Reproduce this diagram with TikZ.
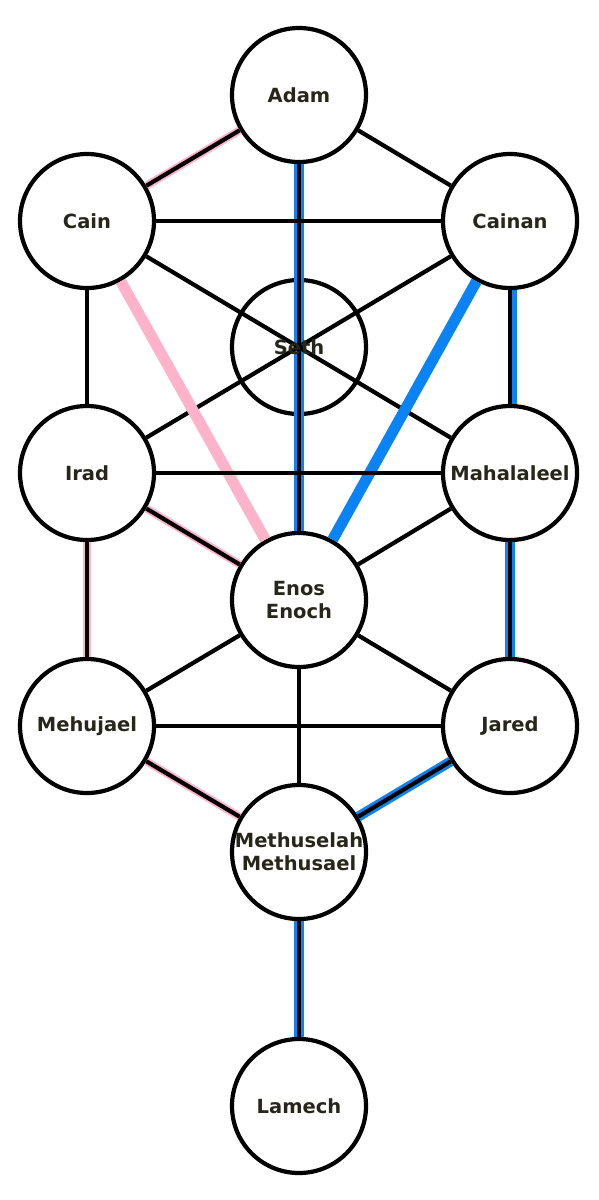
\documentclass[tikz,border=0pt]{standalone}
\usepackage{fontspec}
\setmainfont{DejaVu Sans}
\begin{document}
\begin{tikzpicture}[x=1pt,y=1pt,
  person/.style={circle, draw=black, line width=4.2pt, fill=white, minimum size=134pt, inner sep=0pt,
    font=\fontsize{19.5}{23}\selectfont\bfseries, text=txtcol, align=center},
  hollow/.style={person, fill=none},
  plain/.style={draw=black, line width=4.2pt},
  pinkedge/.style={plain, preaction={draw=pinkc, line width=8pt}},
  blueedge/.style={plain, preaction={draw=bluec, line width=10pt}},
  pinkwide/.style={draw=pinkc, line width=11pt},
  bluewide/.style={draw=bluec, line width=11pt}]
\definecolor{pinkc}{HTML}{FFB3CB}
\definecolor{bluec}{HTML}{0A84F5}
\definecolor{txtcol}{HTML}{26261A}
\useasboundingbox (0,0) rectangle (598,-1200);
\fill[white] (0,0) rectangle (598,-1200);
% nodes
\node[person] (adam) at (299,-95) {Adam};
\node[person] (cain) at (87,-221) {Cain};
\node[person] (cainan) at (510,-221) {Cainan};
\node[hollow] (seth) at (299,-347) {};
\node[person] (irad) at (87,-473) {Irad};
\node[person] (mahal) at (510,-473) {Mahalaleel};
\node[person] (enos) at (299,-600) {\fontsize{19.5}{27}\selectfont\bfseries Enos\\Enoch};
\node[person] (mehu) at (87,-726) {Mehujael};
\node[person] (jared) at (510,-726) {Jared};
\node[person] (meth) at (299,-852) {\fontsize{19.5}{21.5}\selectfont\bfseries Methuselah\\Methusael};
\node[person] (lamech) at (299,-1106) {Lamech};
% edges
\draw[pinkedge] (adam) -- (cain);
\draw[plain] (adam) -- (cainan);
\draw[blueedge] (adam) -- (enos);
\draw[plain] (cain) -- (cainan);
\draw[plain] (cain) -- (mahal);
\draw[plain] (cainan) -- (irad);
\draw[plain] (cain) -- (irad);
\draw[pinkwide] (cain) -- (enos);
\draw[bluewide] (cainan) -- (enos);
\draw[plain, preaction={draw=bluec, line width=8pt, transform canvas={xshift=2.5pt}}] (cainan) -- (mahal);
\draw[plain] (irad) -- (mahal);
\draw[pinkedge] (irad) -- (enos);
\draw[plain] (mahal) -- (enos);
\draw[pinkedge] (irad) -- (mehu);
\draw[blueedge] (mahal) -- (jared);
\draw[plain] (enos) -- (mehu);
\draw[plain] (enos) -- (jared);
\draw[plain] (enos) -- (meth);
\draw[plain] (mehu) -- (jared);
\draw[pinkedge] (mehu) -- (meth);
\draw[blueedge] (jared) -- (meth);
\draw[blueedge] (meth) -- (lamech);
\node[font=\fontsize{19.5}{23}\selectfont\bfseries, text=txtcol, inner sep=0pt] (sethlabel) at (seth.center) {Seth};
\end{tikzpicture}
\end{document}
